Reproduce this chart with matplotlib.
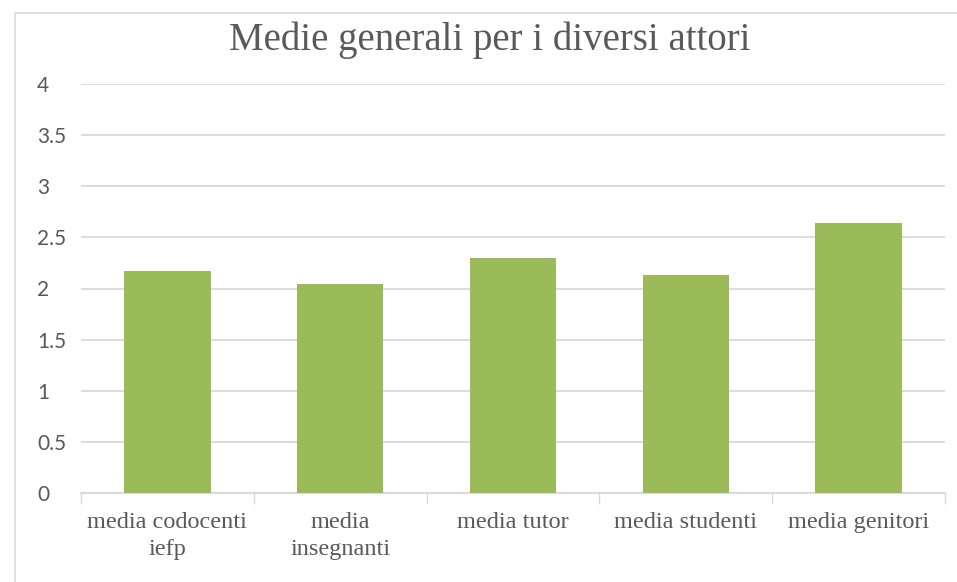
import matplotlib
matplotlib.use("Agg")
import matplotlib.pyplot as plt
import matplotlib.patches as mpatches
import numpy as np

TITLE = "Medie generali per i diversi attori"
CATEGORIES = ["media codocenti\niefp", "media\ninsegnanti", "media tutor",
              "media studenti", "media genitori"]
VALUES = [2.17, 2.04, 2.30, 2.13, 2.64]
Y_TICKS = [0, 0.5, 1, 1.5, 2, 2.5, 3, 3.5, 4]

C_BAR = "#9BBB59"
C_TEXT = "#595959"
C_GRID = "#D9D9D9"
SERIF = ["Liberation Serif", "DejaVu Serif"]
SANS = ["Lato", "DejaVu Sans"]

W, H = 957, 582
fig = plt.figure(figsize=(W / 100, H / 100), dpi=100)
ax = fig.add_axes([81 / W, 1 - 493 / H, (945 - 81) / W, (493 - 84) / H])

# chart frame (only the top/left edges fall inside the canvas)
fig.add_artist(mpatches.Rectangle((15 / W, -0.2), 1.2, 1.2 - 13 / H,
                                  transform=fig.transFigure, fill=False,
                                  edgecolor=C_GRID, lw=1.2))

x = np.arange(len(CATEGORIES))
ax.bar(x, VALUES, width=0.5, color=C_BAR, zorder=3)

ax.set_xlim(-0.5, len(CATEGORIES) - 0.5)
ax.set_ylim(0, 4)
ax.set_yticks(Y_TICKS)
ax.set_yticklabels([f"{v:g}" for v in Y_TICKS], fontfamily=SANS,
                   fontsize=15, color=C_TEXT)
for lbl in ax.get_yticklabels():
    lbl.set_ha("left")
ax.tick_params(axis="y", length=0, pad=31.5)
ax.yaxis.grid(True, color=C_GRID, lw=1.3, zorder=0)

ax.set_xticks(x)
ax.set_xticklabels(CATEGORIES, fontfamily=SERIF, fontsize=17.5,
                   color=C_TEXT, linespacing=1.35)
ax.tick_params(axis="x", length=0, pad=14)
ax.set_xticks(np.arange(len(CATEGORIES) + 1) - 0.5, minor=True)
ax.tick_params(axis="x", which="minor", length=8, width=1, color=C_GRID)

for s in ["top", "right", "left"]:
    ax.spines[s].set_visible(False)
ax.spines["bottom"].set_color(C_GRID)
ax.spines["bottom"].set_linewidth(1.3)

fig.text(490 / W, 1 - 40 / H, TITLE, ha="center", va="center",
         fontfamily=SERIF, fontsize=28, color=C_TEXT)

fig.savefig("out.png", dpi=100)
